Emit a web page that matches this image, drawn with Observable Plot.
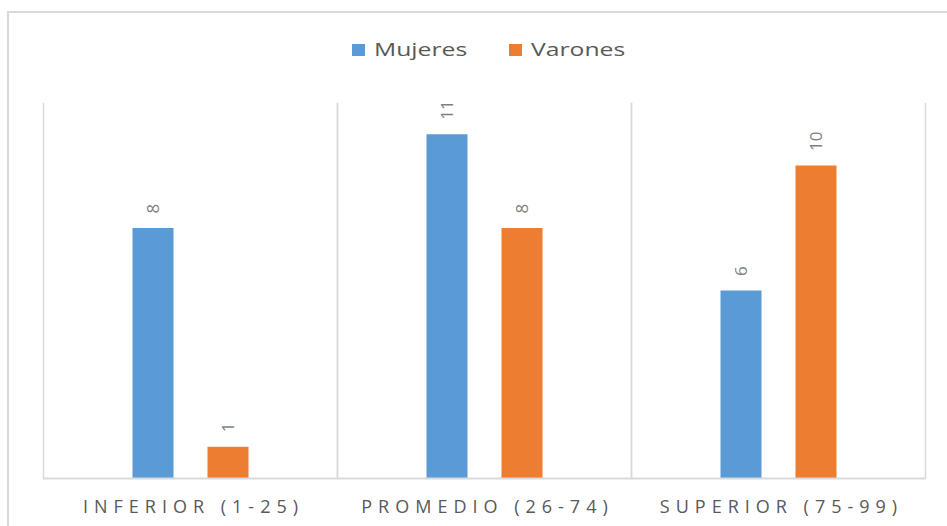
<!DOCTYPE html>
<html>
<head>
<meta charset="utf-8">
<script src="https://cdn.jsdelivr.net/npm/d3@7"></script>
<script src="https://cdn.jsdelivr.net/npm/@observablehq/plot@0.6"></script>
<style>
  html, body { margin: 0; padding: 0; background: #fff; }
  #wrap { position: relative; width: 947px; height: 526px; overflow: hidden; font-family: "Open Sans", sans-serif; }
  #border { position: absolute; left: 7px; top: 11px; width: 960px; height: 540px; border-left: 2px solid #d9d9d9; border-top: 2px solid #d9d9d9; }
  #legend { position: relative; height: 80px; }
  .sw { position: absolute; top: 44px; width: 13px; height: 12px; }
  .lt { position: absolute; top: 36px; font-size: 19px; color: #595959; transform: scaleX(1.3); transform-origin: left center; line-height: 26px; }
  #chart { position: relative; }
  #chart g[aria-label="fx-axis tick label"] text { letter-spacing: 6px; }
</style>
</head>
<body>
<div id="wrap">
  <div id="border"></div>
  <div id="legend"></div>
  <div id="chart"></div>
</div>
<script>
const categories = ["INFERIOR (1-25)", "PROMEDIO (26-74)", "SUPERIOR (75-99)"];
const series = ["Mujeres", "Varones"];
const mujeres = [8, 11, 6];
const varones = [1, 8, 10];
const colors = ["#5B9BD5", "#ED7D31"];
const yMax = 12;

const values = {Mujeres: mujeres, Varones: varones};
const data = categories.flatMap((c, i) => series.map(s => ({cat: c, serie: s, value: values[s][i]})));

// legend
const legend = document.getElementById("legend");
const legendX = [352, 509];
series.forEach((s, i) => {
  const sw = document.createElement("div");
  sw.className = "sw";
  sw.style.left = legendX[i] + "px";
  sw.style.background = colors[i];
  legend.appendChild(sw);
  const t = document.createElement("div");
  t.className = "lt";
  t.style.left = (legendX[i] + 22) + "px";
  t.textContent = s;
  legend.appendChild(t);
});

const chart = Plot.plot({
  width: 947,
  height: 446,
  marginTop: 23,
  marginBottom: 48,
  marginLeft: 42.5,
  marginRight: 21,
  style: {fontFamily: "'Open Sans', sans-serif", background: "transparent", overflow: "visible"},
  fx: {domain: categories, padding: 0, label: null},
  x: {domain: series, paddingInner: 0.46, paddingOuter: 1.18, axis: null},
  y: {domain: [0, yMax], axis: null},
  color: {domain: series, range: colors},
  marks: [
    Plot.frame({anchor: "left", stroke: "#d9d9d9", strokeWidth: 1.5}),
    Plot.frame({anchor: "right", stroke: "#d9d9d9", strokeWidth: 1.5}),
    Plot.barY(data, {fx: "cat", x: "serie", y: "value", fill: "serie"}),
    Plot.text(data, {fx: "cat", x: "serie", y: "value", text: d => String(d.value),
      rotate: -90, textAnchor: "start", dy: -15, fill: "#7f7f7f", fontSize: 17}),
    Plot.ruleY([0], {stroke: "#d9d9d9", strokeWidth: 2}),
    Plot.axisFx({anchor: "bottom", tickSize: 0, tickPadding: 22, fontSize: 18, fill: "#595959", label: null, dx: 3})
  ]
});
document.getElementById("chart").appendChild(chart);
</script>
</body>
</html>
